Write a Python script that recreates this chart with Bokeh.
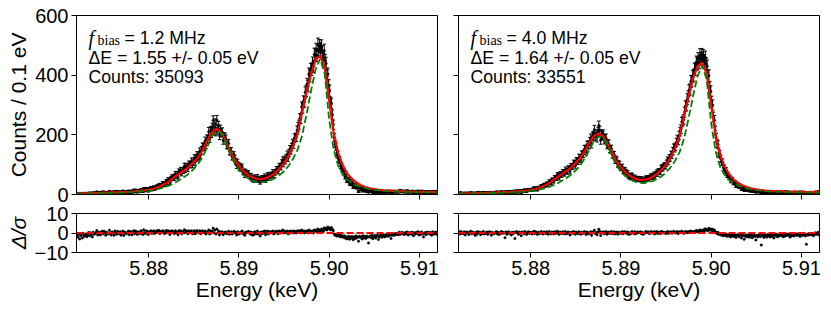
import numpy as np
from bokeh.plotting import figure
from bokeh.layouts import row, column
from bokeh.models import Range1d, FixedTicker, PrintfTickFormatter, Label, ColumnDataSource, Span
from bokeh.embed import file_html
from bokeh.resources import INLINE

# ---------------- data ----------------
E_START, E_END = 5.872, 5.912        # keV, axis range
BIN_KEV = 0.0001                      # 0.1 eV bins
CURVE_STEP_KEV = 0.0005               # fit curves tabulated every 0.5 eV

x_ticks = [5.88, 5.89, 5.90, 5.91]
y_ticks_top = [0, 200, 400, 600]
y_ticks_res = [-10, 0, 10]

titles_f = ["1.2", "4.0"]
titles_dE = ["1.55 +/- 0.05", "1.64 +/- 0.05"]
titles_counts = ["35093", "33551"]

# counts per 0.1 eV bin, f_bias = 1.2 MHz
counts_1p2 = [
    2, 1, 4, 1, 3, 3, 1, 4, 2, 2,
    4, 2, 3, 5, 3, 5, 4, 2, 6, 4,
    4, 5, 8, 3, 6, 5, 3, 7, 8, 5,
    8, 6, 4, 7, 6, 5, 10, 6, 4, 8,
    7, 4, 10, 7, 6, 10, 7, 6, 9, 5,
    8, 11, 5, 9, 8, 7, 8, 11, 6, 10,
    11, 7, 10, 14, 9, 14, 11, 8, 13, 12,
    10, 16, 13, 10, 19, 14, 13, 19, 17, 12,
    18, 17, 22, 16, 19, 24, 18, 24, 23, 28,
    25, 31, 25, 32, 30, 37, 36, 32, 37, 44,
    40, 49, 48, 40, 52, 58, 54, 60, 55, 69,
    63, 69, 59, 77, 75, 82, 71, 81, 79, 95,
    83, 95, 93, 86, 102, 101, 99, 112, 100, 108,
    122, 109, 123, 132, 124, 128, 144, 132, 148, 160,
    159, 160, 179, 166, 186, 185, 210, 188, 214, 205,
    224, 248, 214, 238, 211, 249, 217, 230, 198, 218,
    207, 209, 182, 191, 193, 186, 166, 166, 171, 145,
    145, 145, 127, 127, 132, 121, 111, 97, 108, 98,
    89, 95, 87, 92, 75, 77, 65, 76, 69, 70,
    72, 63, 57, 63, 50, 57, 48, 58, 54, 49,
    59, 48, 52, 41, 55, 48, 56, 53, 61, 47,
    56, 65, 55, 64, 61, 67, 65, 75, 65, 75,
    74, 85, 84, 78, 95, 94, 92, 106, 115, 103,
    118, 113, 123, 134, 122, 139, 152, 147, 159, 172,
    167, 189, 191, 192, 215, 227, 234, 255, 254, 293,
    290, 313, 310, 342, 347, 370, 363, 404, 397, 419,
    420, 440, 429, 469, 468, 485, 467, 502, 483, 497,
    487, 496, 477, 453, 482, 449, 439, 398, 404, 366,
    348, 309, 305, 267, 234, 191, 169, 161, 138, 133,
    117, 116, 96, 96, 84, 74, 76, 60, 61, 47,
    48, 51, 37, 43, 35, 39, 25, 32, 25, 32,
    23, 25, 10, 24, 19, 20, 12, 21, 14, 16,
    11, 16, 13, 8, 13, 14, 10, 15, 7, 10,
    13, 7, 10, 12, 7, 8, 10, 11, 7, 9,
    10, 7, 9, 11, 8, 10, 8, 11, 6, 8,
    10, 8, 11, 8, 9, 10, 8, 12, 9, 11,
    12, 9, 10, 8, 11, 9, 12, 7, 10, 9,
    10, 8, 11, 5, 9, 7, 10, 8, 11, 6,
    9, 7, 11, 8, 3, 8, 9, 6, 9, 7,
    9, 7, 8, 5, 10, 6, 9, 7, 10, 6,
]

# normalised residuals, f_bias = 1.2 MHz
resid_1p2 = [
    -1.2, -2.1, -0.4, -3.1, -1.4, -0.9, -2.6, -0.2, -1.7, -1.3,
    -0.5, -1.9, -1.1, 0.2, -1.4, 0.1, -0.8, -2.0, 0.4, -0.6,
    -0.3, 0.1, 1.2, -1.0, 0.4, 0.0, -1.0, 0.5, 0.9, -0.4,
    0.9, 0.1, -1.1, 0.4, 0.0, -0.5, 1.4, 0.1, -1.0, 0.5,
    0.0, -1.2, 1.0, 0.1, -0.6, 0.9, 0.0, -0.4, 0.6, -1.1,
    0.2, 1.0, -1.2, 0.4, 0.1, -0.4, 0.1, 1.0, -0.9, 0.6,
    0.6, -0.9, 0.2, 1.1, -0.4, 1.0, 0.2, -0.8, 0.6, 0.1,
    -0.3, 1.1, 0.2, -0.8, 1.6, 0.2, -0.3, 1.1, 0.7, -0.8,
    0.6, 0.2, 1.1, -0.2, 0.3, 1.1, -0.2, 0.7, 0.3, 1.2,
    0.2, 1.2, -0.3, 0.7, 0.3, 1.1, 0.7, -0.3, 0.2, 1.2,
    0.1, 1.1, 0.7, -0.8, 0.6, 1.1, 0.2, 0.6, -0.3, 1.1,
    0.1, 0.6, -0.9, 1.1, 0.6, 1.1, -0.4, 0.6, 0.1, 1.6,
    0.1, 1.1, 0.6, -0.4, 1.1, 0.6, 0.1, 1.1, -0.4, 0.1,
    1.1, -0.4, 0.6, 1.2, 0.1, 0.1, 1.1, -0.4, 0.5, 1.1,
    0.5, 0.1, 1.0, -0.5, 0.5, 0.1, 1.5, -0.5, 1.0, 0.0,
    1.0, 2.4, 0.0, 1.5, -0.5, 2.0, 0.0, 1.0, -1.0, 0.5,
    0.1, 0.6, -0.9, -0.1, 0.4, 0.5, -0.4, 0.1, 0.9, -0.6,
    0.0, 0.6, -0.5, 0.1, 0.9, 0.5, -0.1, -1.0, 0.6, 0.0,
    -0.5, 0.4, 0.1, 1.0, -0.4, 0.0, -1.1, 0.5, 0.1, 0.4,
    0.9, 0.0, -0.5, 0.5, -1.0, 0.1, -1.0, 0.6, 0.0, -0.4,
    1.0, -0.5, 0.1, -1.5, 0.5, -0.4, 0.6, 0.0, 1.0, -0.9,
    0.0, 1.0, -0.5, 0.6, 0.0, 0.6, 0.1, 1.0, -0.5, 0.5,
    0.1, 1.0, 0.5, -0.4, 1.0, 0.6, 0.0, 1.0, 1.5, 0.0,
    1.0, 0.1, 0.5, 1.0, -0.5, 0.5, 1.0, 0.0, 0.5, 1.0,
    0.0, 1.0, 0.5, 0.0, 1.0, 1.0, 0.5, 1.1, 0.0, 1.5,
    0.5, 1.0, 0.0, 1.0, 0.5, 1.0, 0.0, 1.5, 0.5, 1.0,
    0.5, 1.0, 0.0, 1.5, 1.0, 1.5, 0.5, 2.0, 1.0, 1.5,
    1.2, 2.0, 1.5, 0.8, 2.6, 1.8, 2.4, 1.5, 3.0, 2.2,
    2.5, 1.6, 2.8, 1.9, 1.2, -0.5, -1.2, -0.8, -1.6, -1.0,
    -1.5, -0.9, -2.0, -1.3, -1.8, -2.2, -1.4, -2.6, -1.9, -3.0,
    -2.4, -1.7, -3.2, -2.0, -2.6, -1.8, -3.4, -2.2, -2.9, -1.5,
    -2.6, -2.0, -4.2, -1.7, -2.3, -1.9, -3.1, -1.4, -2.5, -1.8,
    -2.8, -1.5, -2.2, -5.1, -1.9, -1.6, -2.4, -1.2, -2.9, -2.0,
    -1.3, -2.6, -1.8, -1.1, -3.3, -2.1, -1.4, -0.9, -2.2, -1.5,
    -1.0, -2.0, -1.4, -0.6, -1.7, -0.8, -1.5, -0.4, -2.8, -1.1,
    -0.6, -1.2, -0.3, -1.0, -0.5, -0.2, -0.9, 0.3, -0.7, -0.1,
    0.4, -0.5, 0.0, -0.8, 0.2, -0.3, 0.5, -1.0, 0.1, -0.4,
    0.2, -0.6, 0.4, -1.4, 0.0, -0.5, 0.3, -0.2, 0.6, -1.0,
    0.1, -0.7, 0.5, -0.3, -2.0, -0.4, 0.2, -0.9, 0.4, -0.2,
    0.3, -0.5, 0.1, -1.1, 0.6, -0.6, 0.2, -0.3, 0.5, -0.8,
]

# fitted model (red) and reference line shape (green dashed), every 0.5 eV
fit_1p2 = [
    4, 4, 4, 5, 5, 5, 6, 6, 7, 7,
    8, 8, 9, 11, 12, 14, 16, 19, 24, 31,
    39, 50, 62, 72, 82, 94, 110, 125, 150, 182,
    208, 220, 210, 183, 148, 118, 96, 78, 65, 57,
    52, 51, 55, 62, 72, 87, 105, 130, 163, 205,
    275, 345, 405, 452, 466, 424, 315, 205, 138, 98,
    70, 53, 40, 31, 25, 21, 18, 16, 14, 13,
    12, 11, 11, 10, 10, 9, 9, 9, 8, 8,
    8,
]
alt_1p2 = [
    3, 3, 3, 4, 4, 4, 5, 5, 5, 6,
    6, 7, 8, 9, 10, 11, 13, 15, 18, 22,
    27, 33, 41, 50, 60, 71, 86, 104, 128, 160,
    195, 213, 208, 178, 138, 105, 82, 65, 54, 46,
    42, 41, 43, 48, 55, 65, 78, 96, 120, 150,
    198, 270, 350, 420, 455, 405, 250, 150, 96, 68,
    50, 39, 31, 25, 21, 18, 16, 14, 12, 11,
    10, 10, 9, 9, 8, 8, 8, 7, 7, 7,
    7,
]

# f_bias = 4.0 MHz
counts_4p0 = [
    5, 3, 6, 4, 4, 3, 5, 2, 4, 5,
    4, 2, 5, 6, 3, 5, 4, 5, 2, 5,
    4, 7, 5, 6, 3, 5, 4, 7, 4, 5,
    5, 6, 4, 6, 7, 7, 3, 6, 6, 5,
    6, 8, 6, 8, 5, 6, 8, 9, 6, 8,
    7, 1, 9, 6, 8, 10, 7, 9, 6, 10,
    8, 11, 4, 10, 12, 10, 8, 12, 11, 6,
    13, 12, 11, 15, 12, 11, 15, 16, 14, 16,
    16, 14, 18, 21, 16, 21, 19, 16, 23, 22,
    22, 28, 26, 24, 31, 32, 30, 36, 35, 33,
    43, 40, 40, 48, 48, 45, 56, 56, 54, 65,
    62, 56, 68, 67, 66, 75, 74, 70, 83, 78,
    77, 87, 86, 78, 94, 94, 93, 105, 104, 98,
    113, 111, 111, 124, 123, 117, 134, 135, 136, 152,
    153, 144, 166, 166, 166, 178, 189, 169, 195, 197,
    217, 194, 203, 190, 211, 231, 214, 182, 203, 197,
    202, 183, 187, 189, 166, 171, 169, 152, 151, 153,
    134, 132, 133, 115, 118, 115, 100, 103, 101, 91,
    89, 92, 79, 82, 81, 76, 69, 72, 60, 64,
    57, 62, 64, 56, 53, 58, 50, 52, 54, 51,
    50, 53, 47, 52, 45, 46, 51, 55, 52, 55,
    56, 52, 58, 63, 58, 61, 67, 60, 69, 74,
    69, 78, 78, 75, 87, 91, 88, 95, 97, 95,
    105, 115, 110, 122, 123, 134, 132, 145, 157, 155,
    160, 175, 185, 180, 198, 211, 219, 243, 247, 252,
    276, 296, 298, 320, 329, 349, 352, 379, 380, 396,
    400, 420, 420, 443, 438, 454, 442, 467, 455, 468,
    457, 464, 448, 459, 437, 430, 397, 398, 359, 346,
    312, 300, 260, 249, 214, 191, 171, 167, 140, 135,
    121, 108, 109, 90, 89, 79, 81, 65, 66, 57,
    58, 46, 49, 50, 39, 39, 40, 29, 34, 34,
    26, 28, 29, 18, 23, 24, 14, 19, 21, 15,
    16, 19, 12, 15, 16, 10, 13, 15, 10, 8,
    12, 9, 10, 13, 8, 3, 11, 8, 7, 10,
    8, 6, 10, 7, 8, 6, 9, 6, 7, 5,
    8, 7, 9, 5, 7, 6, 8, 6, 9, 5,
    7, 5, 9, 6, 8, 6, 8, 4, 7, 5,
    7, 5, 8, 6, 7, 5, 8, 6, 4, 8,
    7, 5, 8, 6, 4, 1, 6, 5, 7, 6,
    7, 5, 7, 4, 6, 8, 6, 7, 9, 5,
]
resid_4p0 = [
    0.3, -0.5, 0.8, -0.2, 0.1, -0.4, 0.6, -1.0, 0.2, 0.5,
    0.0, -0.8, 0.4, 0.9, -0.3, 0.5, -0.2, 0.1, -1.2, 0.3,
    -0.6, 0.7, 0.0, 0.4, -0.9, 0.2, -0.3, 0.8, -0.5, 0.1,
    -0.2, 0.5, -0.7, 0.3, 0.6, 0.4, -1.1, 0.2, 0.0, -0.4,
    0.1, 0.6, -0.3, 0.5, -0.8, -0.5, 0.2, 0.7, -0.2, 0.3,
    0.0, -2.4, 0.5, -0.6, 0.2, 0.6, -0.3, 0.1, -1.0, 0.4,
    -0.3, 0.4, -2.8, 0.2, 0.7, 0.1, -0.6, 0.5, 0.0, -1.4,
    0.5, 0.2, -0.4, 0.8, -0.1, -0.7, 0.3, 0.6, -0.2, 0.4,
    0.2, -0.5, 0.3, 0.9, -0.3, 0.6, 0.1, -0.8, 0.4, 0.0,
    -0.2, 0.7, 0.2, -0.5, 0.5, 0.4, -0.3, 0.6, 0.1, -0.6,
    0.8, 0.0, -0.4, 0.5, 0.2, -0.5, 0.6, 0.3, -0.2, 0.9,
    0.3, -0.7, 0.5, 0.1, -0.3, 0.6, 0.2, -0.5, 0.8, 0.0,
    -0.4, 0.5, 0.1, -1.0, 0.4, 0.2, -0.2, 0.7, 0.3, -0.6,
    0.5, 0.0, -0.3, 0.6, 0.2, -0.6, 0.4, 0.1, -0.2, 0.7,
    0.3, -0.8, 0.5, 0.0, -0.4, 0.1, 0.6, -1.2, 0.4, 0.2,
    1.4, -0.3, 0.2, -0.9, 0.5, 1.9, 0.8, -1.3, 0.3, 0.0,
    0.6, -0.4, 0.2, 0.7, -0.6, 0.2, 0.5, -0.3, 0.1, 0.8,
    -0.3, 0.0, 0.6, -0.5, 0.3, 0.5, -0.6, 0.2, 0.4, -0.2,
    0.0, 0.7, -0.4, 0.3, 0.6, 0.4, -0.2, 0.5, -0.7, 0.1,
    -0.5, 0.3, 0.8, 0.0, -0.3, 0.6, -0.4, 0.1, 0.5, 0.2,
    0.2, 0.6, -0.3, 0.4, -0.6, -0.4, 0.1, 0.7, 0.2, 0.5,
    0.5, -0.3, 0.3, 0.8, 0.0, 0.1, 0.6, -0.5, 0.4, 0.7,
    -0.2, 0.5, 0.2, -0.4, 0.6, 0.7, 0.0, 0.4, 0.2, -0.3,
    0.3, 0.8, -0.2, 0.5, 0.1, 0.6, -0.1, 0.4, 0.9, 0.2,
    0.0, 0.5, 0.7, -0.3, 0.4, 0.6, 0.2, 0.9, 0.3, -0.2,
    0.4, 0.8, 0.1, 0.6, 0.3, 0.7, 0.2, 1.0, 0.4, 0.6,
    0.3, 0.9, 0.5, 1.2, 0.6, 1.1, 0.4, 1.5, 0.8, 1.3,
    0.9, 1.6, 1.2, 2.1, 1.4, 1.8, 1.2, 2.4, 1.5, 2.0,
    1.3, 1.9, 0.8, 1.5, 0.6, 0.2, -0.4, 0.3, -0.8, -0.2,
    -0.6, -1.1, -0.3, -1.4, -0.8, -1.2, -0.5, -1.7, -1.0, -1.5,
    -0.9, -2.0, -1.3, -0.7, -1.8, -1.5, -1.0, -2.3, -1.2, -0.8,
    -1.9, -1.3, -0.9, -2.5, -1.4, -1.1, -3.2, -1.6, -1.0, -2.0,
    -1.7, -0.8, -2.2, -1.3, -1.0, -2.4, -1.5, -0.9, -1.8, -3.6,
    -1.2, -2.0, -1.4, -0.7, -1.9, -6.2, -1.0, -1.6, -2.3, -0.9,
    -1.3, -2.1, -0.8, -1.5, -1.1, -2.0, -0.7, -1.8, -1.2, -2.6,
    -0.9, -1.4, -0.6, -2.0, -1.1, -1.5, -0.8, -1.3, -0.5, -1.9,
    -1.0, -1.7, -0.4, -1.2, -0.7, -1.3, -0.6, -2.1, -0.9, -1.4,
    -0.8, -1.5, -0.3, -1.1, -0.6, -1.2, -0.4, -1.0, -1.8, -0.5,
    -0.7, -1.3, -0.2, -0.9, -1.5, -5.8, -0.6, -1.1, -0.3, -0.8,
    -0.4, -1.0, -0.2, -1.4, -0.6, 0.1, -0.7, -0.3, 0.4, -1.0,
]
fit_4p0 = [
    4, 4, 4, 4, 5, 5, 5, 6, 6, 7,
    7, 8, 9, 10, 11, 13, 15, 18, 22, 29,
    37, 48, 59, 69, 79, 91, 106, 122, 146, 174,
    196, 205, 196, 172, 140, 112, 91, 74, 62, 54,
    49, 49, 52, 59, 69, 83, 100, 124, 156, 196,
    262, 330, 390, 430, 442, 405, 300, 195, 131, 93,
    67, 50, 38, 30, 24, 20, 17, 15, 13, 12,
    11, 11, 10, 10, 9, 9, 9, 8, 8, 8,
    8,
]
alt_4p0 = [
    3, 3, 3, 3, 4, 4, 4, 5, 5, 5,
    6, 6, 7, 8, 9, 10, 12, 14, 17, 21,
    25, 31, 38, 47, 56, 67, 81, 98, 121, 150,
    180, 194, 192, 166, 129, 98, 77, 61, 51, 44,
    40, 39, 41, 45, 52, 61, 74, 91, 113, 142,
    188, 256, 332, 398, 432, 385, 238, 143, 91, 65,
    48, 38, 30, 25, 20, 17, 15, 13, 11, 10,
    10, 9, 9, 8, 8, 7, 7, 7, 7, 6,
    6,
]

for name, arr, n in [("counts_1p2", counts_1p2, 400), ("resid_1p2", resid_1p2, 400),
                     ("counts_4p0", counts_4p0, 400), ("resid_4p0", resid_4p0, 400),
                     ("fit_1p2", fit_1p2, 81), ("alt_1p2", alt_1p2, 81),
                     ("fit_4p0", fit_4p0, 81), ("alt_4p0", alt_4p0, 81)]:
    if len(arr) != n:
        raise SystemExit(f"{name} has {len(arr)} values, expected {n}")

# ---------------- styling ----------------
FONT = "Liberation Sans"
TICK_PX = "20px"
AXLAB_PX = "21px"
ANN_PX = "17.7px"

FRAME_W = 361
TOP_H = 204
RES_H = 102


def style_axes(p):
    p.xgrid.visible = False
    p.ygrid.visible = False
    p.outline_line_color = "black"
    p.outline_line_width = 1
    p.outline_line_alpha = 1
    p.background_fill_color = "white"
    p.border_fill_color = "white"
    for ax in (p.xaxis[0], p.yaxis[0]):
        ax.axis_line_color = "black"
        ax.axis_line_width = 1
        ax.major_tick_line_color = "black"
        ax.major_tick_line_width = 1
        ax.major_tick_out = 5
        ax.major_tick_in = 0
        ax.minor_tick_out = 0
        ax.minor_tick_in = 0
        ax.minor_tick_line_color = None
        ax.major_label_text_font = FONT
        ax.major_label_text_font_size = TICK_PX
        ax.major_label_text_color = "black"
        ax.major_label_standoff = 3
        ax.axis_label_text_font = FONT
        ax.axis_label_text_font_size = AXLAB_PX
        ax.axis_label_text_font_style = "normal"
        ax.axis_label_text_color = "black"
        ax.axis_label_standoff = 2


def hide_labels(ax):
    # tick marks only (shared axis): no label text is drawn at all
    ax.major_label_text_color = None
    ax.major_label_standoff = 0


def make_panel(i, counts, resid, fit, alt, is_left):
    ml = 76 if is_left else 11
    mr = 10 if is_left else 8
    width = ml + FRAME_W + mr

    xr = Range1d(E_START, E_END)
    top = figure(width=width, height=TOP_H, x_range=xr, y_range=Range1d(0, 600),
                 output_backend="svg", toolbar_location=None,
                 min_border_left=ml, min_border_right=mr,
                 min_border_top=15, min_border_bottom=10)
    style_axes(top)
    top.xaxis.ticker = FixedTicker(ticks=x_ticks)
    hide_labels(top.xaxis[0])
    top.yaxis.ticker = FixedTicker(ticks=y_ticks_top)
    if is_left:
        top.yaxis.axis_label = "Counts / 0.1 eV"
    else:
        hide_labels(top.yaxis[0])

    c = np.array(counts, dtype=float)
    err = np.sqrt(c)
    xc = E_START + BIN_KEV * (np.arange(len(c)) + 0.5)
    src = ColumnDataSource(dict(x=xc, y=c, lo=c - err, hi=c + err))
    top.segment(x0="x", y0="lo", x1="x", y1="hi", source=src,
                line_color="black", line_width=1.0)
    top.scatter("x", "hi", source=src, marker="dash", size=3.5,
                line_color="black", line_width=1.0)
    top.scatter("x", "lo", source=src, marker="dash", size=3.5,
                line_color="black", line_width=1.0)
    top.scatter("x", "y", source=src, marker="circle", size=2.5,
                fill_color="black", line_color="black", line_width=0.5)

    xf = E_START + CURVE_STEP_KEV * np.arange(len(fit))
    top.line(xf, fit, line_color="red", line_width=2.2)
    top.line(xf, alt, line_color="green", line_width=1.8, line_dash="7 3")

    # annotation block
    anchor = dict(x=E_START, y=600, text_baseline="alphabetic", text_color="black")
    top.add_layout(Label(text="f", x_offset=12, y_offset=-22,
                         text_font="Liberation Serif", text_font_style="italic",
                         text_font_size="20px", **anchor))
    top.add_layout(Label(text="bias", x_offset=21, y_offset=-25,
                         text_font="Liberation Serif", text_font_size="14px", **anchor))
    top.add_layout(Label(text=f"= {titles_f[i]} MHz", x_offset=48, y_offset=-22,
                         text_font=FONT, text_font_size=ANN_PX, **anchor))
    top.add_layout(Label(text=f"\u0394E = {titles_dE[i]} eV", x_offset=12, y_offset=-42,
                         text_font=FONT, text_font_size=ANN_PX, **anchor))
    top.add_layout(Label(text=f"Counts: {titles_counts[i]}", x_offset=12, y_offset=-61,
                         text_font=FONT, text_font_size=ANN_PX, **anchor))

    res = figure(width=width, height=RES_H, x_range=xr, y_range=Range1d(-10, 10),
                 output_backend="svg", toolbar_location=None,
                 min_border_left=ml, min_border_right=mr,
                 min_border_top=9, min_border_bottom=54)
    style_axes(res)
    res.xaxis.ticker = FixedTicker(ticks=x_ticks)
    res.xaxis.formatter = PrintfTickFormatter(format="%.2f")
    res.xaxis.axis_label = "Energy (keV)"
    res.xaxis.axis_label_standoff = 0
    res.yaxis.ticker = FixedTicker(ticks=y_ticks_res)
    if is_left:
        res.yaxis.major_label_overrides = {-10: "\u221210", 0: "0", 10: "10"}
        res.yaxis.axis_label = "\u0394/\u03c3"
        res.yaxis.axis_label_text_font_style = "italic"
    else:
        hide_labels(res.yaxis[0])

    res.scatter(xc, np.array(resid, dtype=float), marker="circle", size=2.6,
                fill_color="black", line_color="black", line_width=0.3)
    res.add_layout(Span(location=0, dimension="width", line_color="red",
                        line_width=2, line_dash="7 3"))
    return column(top, res, spacing=0)


left = make_panel(0, counts_1p2, resid_1p2, fit_1p2, alt_1p2, True)
right = make_panel(1, counts_4p0, resid_4p0, fit_4p0, alt_4p0, False)
layout = row(left, right, spacing=0)

open("out.html", "w").write(file_html(layout, INLINE, title="spectra"))
